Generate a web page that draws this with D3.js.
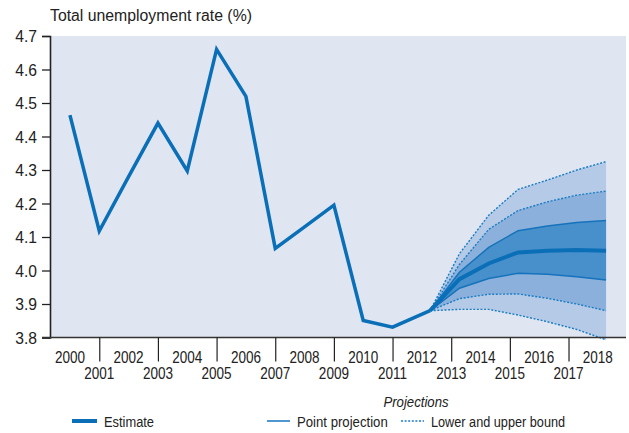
<!DOCTYPE html>
<html>
<head>
<meta charset="utf-8">
<script src="https://cdn.jsdelivr.net/npm/d3@7"></script>
<style>
  body { margin: 0; background: #fff; }
  svg { display: block; }
  text { font-family: 'Liberation Sans', Arial, sans-serif; fill: #222; }
</style>
</head>
<body>
<svg id="chart" width="629" height="433"></svg>
<script>
// estimate series (last point sits a bit past 2012, where the fan starts)
var estYears = [2000, 2001, 2002, 2003, 2004, 2005, 2006, 2007, 2008, 2009, 2010, 2011, 2012.28];
var estimate = [4.464, 4.118, 4.28, 4.44, 4.297, 4.66, 4.52, 4.066, 4.13, 4.195, 3.851, 3.831, 3.88];

// projections, plotted at the same offset as the last estimate point
var projYears = [2012.28, 2013.28, 2014.28, 2015.28, 2016.28, 2017.28, 2018.28];
var point   = [3.88, 3.974, 4.021, 4.054, 4.059, 4.061, 4.059];
var inHi    = [3.88, 3.995, 4.069, 4.119, 4.133, 4.143, 4.149];
var inLo    = [3.88, 3.947, 3.976, 3.992, 3.989, 3.981, 3.972];
var midHi   = [3.88, 4.018, 4.123, 4.179, 4.205, 4.225, 4.237];
var midLo   = [3.88, 3.916, 3.929, 3.930, 3.917, 3.900, 3.880];
var outHi   = [3.88, 4.05, 4.165, 4.242, 4.27, 4.30, 4.325];
var outLo   = [3.88, 3.884, 3.884, 3.867, 3.847, 3.824, 3.793];

var yearLabels = d3.range(2000, 2019);
var yTicks = [3.8, 3.9, 4.0, 4.1, 4.2, 4.3, 4.4, 4.5, 4.6, 4.7];

var svg = d3.select("#chart");
var plotL = 50, plotR = 626, plotT = 36, plotB = 337.5;

var x = d3.scaleLinear().domain([1999.32, 2018.96]).range([plotL, plotR]);
var y = d3.scaleLinear().domain([3.8, 4.7]).range([plotB, plotT]);

var blue = "#0b6fb8";

// the original uses a condensed face, so squeeze text horizontally
function squeeze(sel, sx) {
    sel.each(function() {
        var t = d3.select(this);
        var x0 = +t.attr("x") || 0, y0 = +t.attr("y") || 0;
        t.attr("x", 0).attr("y", 0)
         .attr("transform", "translate(" + x0 + "," + y0 + ") scale(" + sx + ",1)");
    });
}

// plot background
svg.append("rect")
    .attr("x", plotL).attr("y", plotT)
    .attr("width", plotR - plotL).attr("height", plotB - plotT)
    .attr("fill", "#dfe6f2");

// title
svg.append("text")
    .attr("x", 50).attr("y", 21)
    .style("font-size", "15.8px")
    .text("Total unemployment rate (%)");

// fan bands
var proj = projYears.map((yr, i) => ({yr: yr, p: point[i], ih: inHi[i], il: inLo[i],
                                       mh: midHi[i], ml: midLo[i], oh: outHi[i], ol: outLo[i]}));

function band(lo, hi) {
    return d3.area().x(d => x(d.yr)).y0(d => y(d[lo])).y1(d => y(d[hi]));
}
function edge(key) {
    return d3.line().x(d => x(d.yr)).y(d => y(d[key]));
}

svg.append("path").datum(proj).attr("d", band("ol", "oh")).attr("fill", "#b4cae7");
svg.append("path").datum(proj).attr("d", band("ml", "mh")).attr("fill", "#8ab0db");
svg.append("path").datum(proj).attr("d", band("il", "ih")).attr("fill", "#4790cc");

["ol", "oh", "ml", "mh"].forEach(k => {
    svg.append("path").datum(proj).attr("d", edge(k))
        .attr("fill", "none").attr("stroke", "#1a7cc4")
        .attr("stroke-width", 1.4).attr("stroke-dasharray", "2,1.6");
});
["il", "ih"].forEach(k => {
    svg.append("path").datum(proj).attr("d", edge(k))
        .attr("fill", "none").attr("stroke", "#1673bb").attr("stroke-width", 1.5);
});
svg.append("path").datum(proj).attr("d", edge("p"))
    .attr("fill", "none").attr("stroke", blue).attr("stroke-width", 4);

// estimate line
var est = estYears.map((yr, i) => ({yr: yr, v: estimate[i]}));
svg.append("path").datum(est)
    .attr("d", d3.line().x(d => x(d.yr)).y(d => y(d.v)))
    .attr("fill", "none").attr("stroke", blue)
    .attr("stroke-width", 3.5).attr("stroke-linejoin", "miter");

// y axis
var yAxis = svg.append("g")
    .attr("transform", "translate(" + plotL + ",0)")
    .call(d3.axisLeft(y).tickValues(yTicks).tickSize(8).tickPadding(5).tickFormat(d3.format(".1f")));
yAxis.select(".domain").attr("stroke", "#222").attr("stroke-width", 1.6);
yAxis.selectAll(".tick line").attr("stroke", "#222").attr("stroke-width", 1.3);
yAxis.selectAll("text").style("font-size", "16.5px").attr("fill", "#222")
    .style("font-family", null).attr("dy", "0.36em");
squeeze(yAxis.selectAll("text"), 0.95);

// x axis: ticks on odd years, labels staggered
var xAxis = svg.append("g")
    .attr("transform", "translate(0," + plotB + ")")
    .call(d3.axisBottom(x).tickValues(yearLabels.filter(d => d % 2 === 1))
          .tickSize(24).tickFormat(""));
xAxis.select(".domain").attr("d", "M" + (plotL - 8) + ",0H" + plotR)
    .attr("stroke", "#333").attr("stroke-width", 1.6);
xAxis.selectAll(".tick line").attr("stroke", "#222").attr("stroke-width", 1.2);

var yearText = svg.append("g").selectAll("text")
    .data(yearLabels)
    .join("text")
    .attr("x", d => x(d))
    .attr("y", d => d % 2 === 0 ? 362.5 : 378.5)
    .attr("text-anchor", "middle")
    .style("font-size", "16.5px")
    .text(d => d);
squeeze(yearText, 0.82);

// legend
var lg = svg.append("g");
squeeze(lg.append("text").attr("x", 416).attr("y", 407).attr("text-anchor", "middle")
    .style("font-size", "15.5px").style("font-style", "italic").text("Projections"), 0.85);

lg.append("line").attr("x1", 72).attr("x2", 97).attr("y1", 421).attr("y2", 421)
    .attr("stroke", blue).attr("stroke-width", 4);
squeeze(lg.append("text").attr("x", 104).attr("y", 426.5).style("font-size", "15.5px")
    .text("Estimate"), 0.83);

lg.append("line").attr("x1", 267).attr("x2", 290).attr("y1", 421).attr("y2", 421)
    .attr("stroke", "#3a8ccc").attr("stroke-width", 1.8);
squeeze(lg.append("text").attr("x", 297).attr("y", 426.5).style("font-size", "15.5px")
    .text("Point projection"), 0.85);

lg.append("line").attr("x1", 401).attr("x2", 424).attr("y1", 421).attr("y2", 421)
    .attr("stroke", "#1a7cc4").attr("stroke-width", 1.5).attr("stroke-dasharray", "2,1.6");
squeeze(lg.append("text").attr("x", 431).attr("y", 426.5).style("font-size", "15.5px")
    .text("Lower and upper bound"), 0.82);
</script>
</body>
</html>
